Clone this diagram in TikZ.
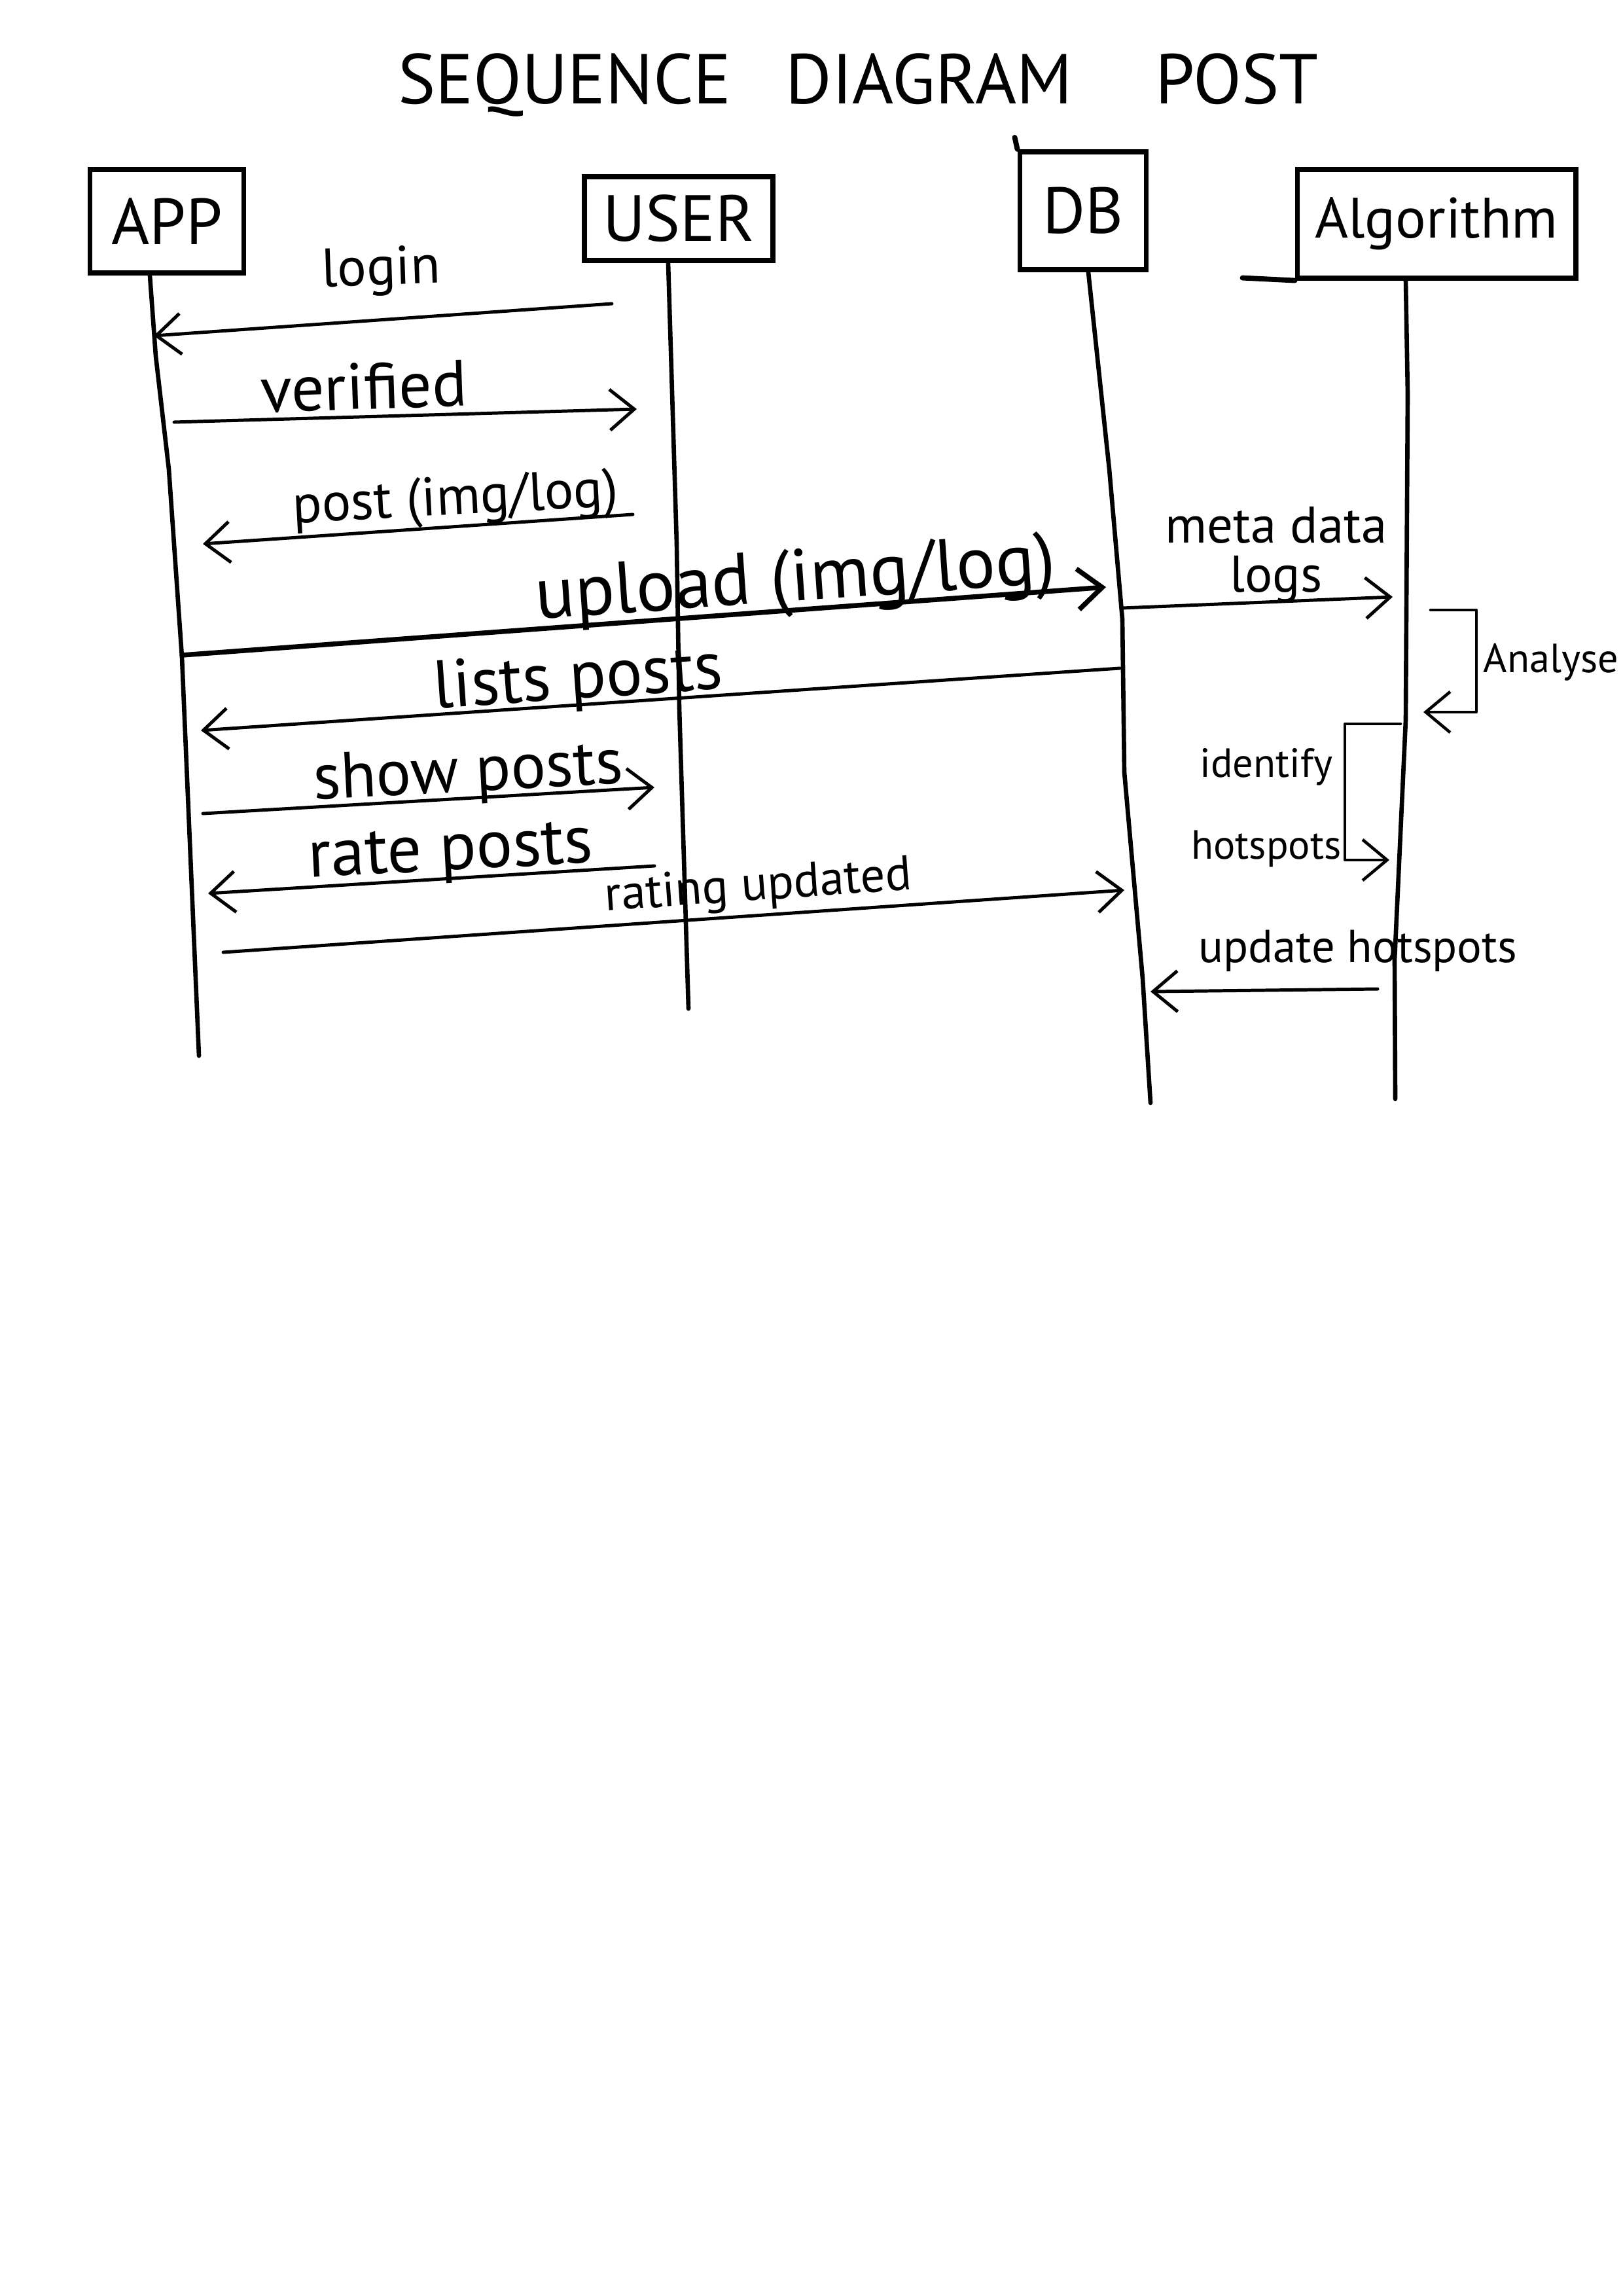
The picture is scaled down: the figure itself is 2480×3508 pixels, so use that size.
\documentclass[tikz,border=0pt]{standalone}
\usepackage{fontspec}
\setmainfont{PT Sans}
\usetikzlibrary{arrows.meta}
\begin{document}
\begin{tikzpicture}[x=0.0846774mm, y=-0.0846774mm,
  actor/.style={draw, line width=1.9pt, inner sep=0pt, font=\fontsize{24}{28}\selectfont},
  life/.style={line width=1.6pt, line join=round, line cap=round},
  msg/.style={line width=1.2pt, line cap=round, line join=round, -{Straight Barb[length=9pt,width=15pt]}},
  thickmsg/.style={msg, line width=1.8pt},
  selfmsg/.style={msg, line width=1.1pt},
  lbl/.style={font=\fontsize{#1}{#1}\selectfont, inner sep=0pt, anchor=base},
  ttl/.style={font=\fontsize{26}{30}\selectfont, inner sep=0pt, anchor=base},
]
\useasboundingbox (0,0) rectangle (2480,3508);
\fill[white] (0,0) rectangle (2480,3508);

% title
\node[ttl] (t1) at (863,158) {SEQUENCE};
\node[ttl] (t2) at (1420,158) {DIAGRAM};
\node[ttl] (t3) at (1890,158) {POST};

% actors
\node[actor, minimum width=56.6pt, minimum height=38.1pt] (app) at (255,338) {APP};
\node[actor, minimum width=69.4pt, minimum height=30.8pt] (user) at (1037,334) {USER};
\node[actor, minimum width=46.5pt, minimum height=43.4pt] (db) at (1655,322) {DB};
\node[actor, minimum width=102.4pt, minimum height=39.8pt, font=\fontsize{21}{25}\selectfont] (alg) at (2195,342) {Algorithm};
\draw[line width=1.9pt, line cap=round] (alg.south west) -- ++(-80,-4);
\draw[line width=1.9pt, line cap=round] (db.north west) -- ++(-4,-18);

% lifelines
\coordinate (appEnd) at (304,1613);
\coordinate (userEnd) at (1052,1541);
\coordinate (dbEnd) at (1758,1685);
\coordinate (algEnd) at (2132,1679);
\draw[life] (app.south -| 229,0) -- (238,544) -- (258,717) -- (278,1004) -- (appEnd);
\draw[life] (user.south -| 1021,0) -- (1034,831) -- (1038,1082) -- (userEnd);
\draw[life] (db.south -| 1663,0) -- (1695,717) -- (1715,946) -- (1718,1180) -- (1746,1495) -- (dbEnd);
\draw[life] (alg.south -| 2148,0) -- (2151,602) -- (2148,1100) -- (2131,1467) -- (algEnd);

% message end points
\coordinate (m1a) at (935,464);   \coordinate (m1b) at (235,513);
\coordinate (m2a) at (266,645);   \coordinate (m2b) at (973,625);
\coordinate (m3a) at (967,786);   \coordinate (m3b) at (310,831);
\coordinate (m4a) at (278,1001);  \coordinate (m4b) at (1690,897);
\coordinate (m5a) at (1715,929);  \coordinate (m5b) at (2128,912);
\coordinate (m6a) at (2186,932);  \coordinate (m6b) at (2175,1088);
\coordinate (m7a) at (1711,1021); \coordinate (m7b) at (307,1116);
\coordinate (m8a) at (2140,1106); \coordinate (m8b) at (2123,1314);
\coordinate (m9a) at (310,1243);  \coordinate (m9b) at (1000,1203);
\coordinate (m10a) at (1000,1323); \coordinate (m10b) at (318,1365);
\coordinate (m11a) at (341,1455); \coordinate (m11b) at (1718,1360);
\coordinate (m12a) at (2105,1511); \coordinate (m12b) at (1758,1515);

% messages
\draw[msg] (m1a) -- (m1b);
\node[lbl=20, rotate=2] (l1) at (583,435) {login};

\draw[msg] (m2a) -- (m2b);
\node[lbl=24, rotate=2] (l2) at (557,625) {verified};

\draw[msg] (m3a) -- (m3b);
\node[lbl=20, rotate=3] (l3) at (697,786) {post (img/log)};

\draw[thickmsg] (m4a) -- (m4b);
\node[lbl=27, rotate=4] (l4) at (1218,918) {upload (img/log)};

\draw[msg] (m5a) -- (m5b);
\node[lbl=19, anchor=center, align=center, font=\fontsize{19}{18}\selectfont] (l5) at (1950,848) {meta data\\logs};

\draw[selfmsg] (m6a) -- ++(70,0) |- (m6b);
\node[lbl=15] (l6) at (2370,1027) {Analyse};

\draw[msg] (m7a) -- (m7b);
\node[lbl=25, rotate=4] (l7) at (885,1067) {lists posts};

\draw[selfmsg] (m8a) -- ++(-85,0) |- (m8b);
\node[lbl=15, anchor=center, align=center, font=\fontsize{15}{30}\selectfont] (l8) at (1935,1234) {identify\\hotspots};

\draw[msg] (m9a) -- (m9b);
\node[lbl=24, rotate=3] (l9) at (717,1209) {show posts};

\draw[msg] (m10a) -- (m10b);
\node[lbl=25, rotate=3] (l10) at (690,1329) {rate posts};

\draw[msg] (m11a) -- (m11b);
\node[lbl=18, rotate=4] (l11) at (1160,1375) {rating updated};

\draw[msg] (m12a) -- (m12b);
\node[lbl=17] (l12) at (2075,1470) {update hotspots};
\end{tikzpicture}
\end{document}
